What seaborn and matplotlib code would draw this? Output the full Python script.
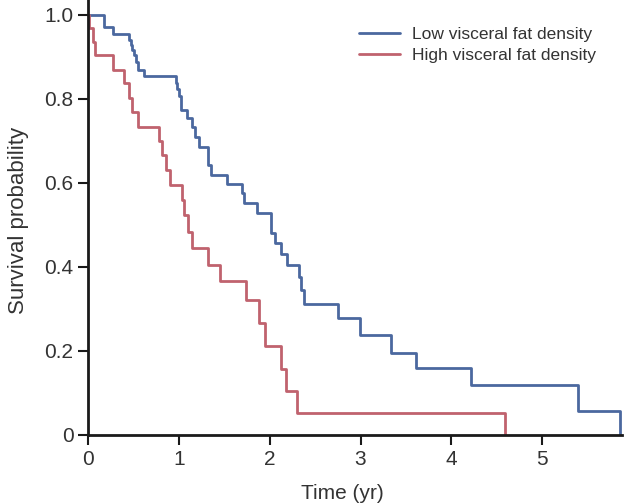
import matplotlib
matplotlib.use('Agg')
import matplotlib.pyplot as plt
import seaborn as sns
import pandas as pd

# step points (time in years, survival probability)
low_t = [0, 0.18, 0.275, 0.448, 0.47, 0.49, 0.51, 0.53, 0.55, 0.62,
         0.97, 0.98, 1.0, 1.02, 1.087, 1.15, 1.18, 1.22, 1.325, 1.355,
         1.53, 1.70, 1.72, 1.865, 2.02, 2.06, 2.12, 2.19, 2.32, 2.34,
         2.38, 2.757, 2.99, 3.34, 3.61, 4.215, 5.39, 5.86, 5.88]
low_s = [1.0, 0.970, 0.954, 0.939, 0.927, 0.916, 0.904, 0.888, 0.868, 0.854,
         0.836, 0.824, 0.805, 0.773, 0.753, 0.733, 0.709, 0.686, 0.642, 0.618,
         0.598, 0.576, 0.551, 0.527, 0.480, 0.456, 0.430, 0.405, 0.376, 0.344,
         0.312, 0.278, 0.238, 0.196, 0.159, 0.119, 0.058, 0.0, 0.0]

high_t = [0, 0.015, 0.05, 0.077, 0.28, 0.40, 0.455, 0.48, 0.547, 0.786,
          0.81, 0.86, 0.90, 1.04, 1.06, 1.10, 1.14, 1.325, 1.45, 1.74,
          1.88, 1.95, 2.12, 2.18, 2.30, 4.59]
high_s = [1.0, 0.967, 0.935, 0.904, 0.868, 0.836, 0.801, 0.769, 0.733, 0.698,
          0.666, 0.630, 0.595, 0.559, 0.523, 0.483, 0.445, 0.405, 0.365, 0.320,
          0.266, 0.211, 0.158, 0.105, 0.053, 0.0]

groups = ['Low visceral fat density', 'High visceral fat density']
colors = ['#4B689F', '#C0626E']

df = pd.concat([
    pd.DataFrame({'t': low_t, 's': low_s, 'group': groups[0]}),
    pd.DataFrame({'t': high_t, 's': high_s, 'group': groups[1]}),
])

sns.set_style('ticks')
plt.rcParams['font.family'] = ['Liberation Sans', 'DejaVu Sans']

fig = plt.figure(figsize=(6.24, 5.04), dpi=100)
ax = fig.add_axes([0.141, 0.137, 0.856, 0.863])

sns.lineplot(data=df, x='t', y='s', hue='group', hue_order=groups,
             palette=colors, drawstyle='steps-post', estimator=None,
             linewidth=2, ax=ax)

ax.set_xlim(0, 5.88)
ax.set_ylim(0, 1.0345)
ax.set_xticks([0, 1, 2, 3, 4, 5])
ax.set_yticks([0, 0.2, 0.4, 0.6, 0.8, 1.0])
ax.set_yticklabels(['0', '0.2', '0.4', '0.6', '0.8', '1.0'])
ax.tick_params(labelsize=15, width=1.5, length=7, color='#1a1a1a',
               labelcolor='#333333')
ax.set_xlabel('Time (yr)', fontsize=15, color='#333333')
ax.set_ylabel('Survival probability', fontsize=16, color='#333333')
ax.xaxis.set_label_coords(0.476, -0.113)
ax.yaxis.set_label_coords(-0.110, 0.494)

for side in ['top', 'right']:
    ax.spines[side].set_visible(False)
for side in ['left', 'bottom']:
    ax.spines[side].set_linewidth(2)
    ax.spines[side].set_color('#1a1a1a')

ax.legend(loc='upper left', bbox_to_anchor=(0.479, 0.975), frameon=False,
          fontsize=12.5, handlelength=2.35, handletextpad=0.67,
          labelspacing=0.35, labelcolor='#333333')

plt.savefig('out.png', dpi=100)
